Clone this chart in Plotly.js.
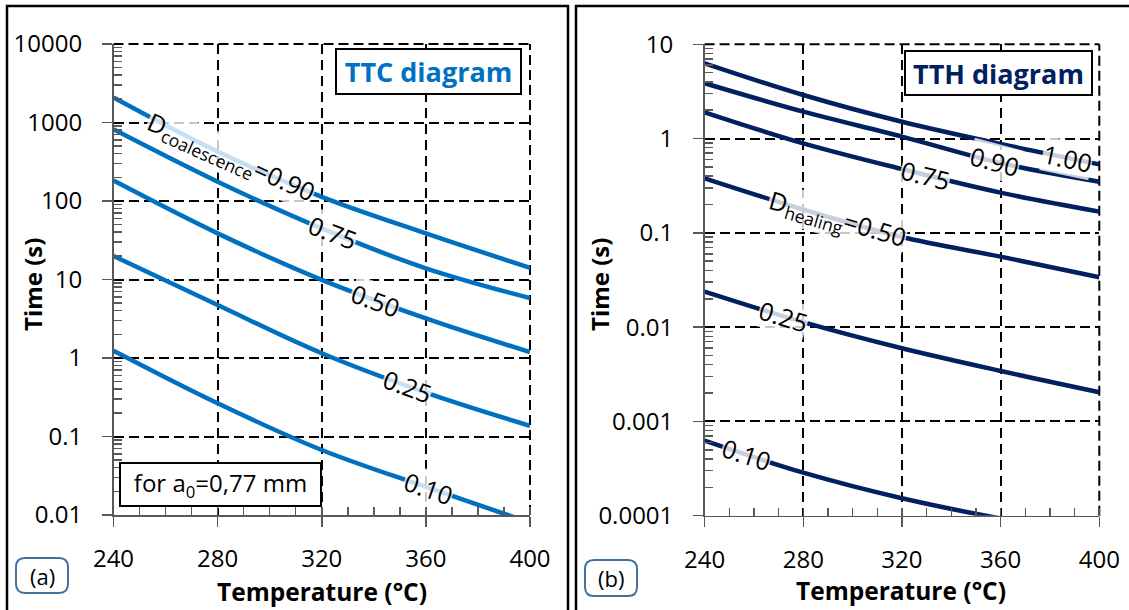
<!DOCTYPE html>
<html>
<head>
<meta charset="utf-8">
<script src="https://cdn.plot.ly/plotly-3.0.1.min.js"></script>
<style>
html,body{margin:0;padding:0;background:#fff;}
#chart{width:1129px;height:610px;}
</style>
</head>
<body>
<div id="chart"></div>
<script>
// ---------- DATA ----------
const temperature = [240, 280, 320, 360, 400];
const xTicks = [240, 280, 320, 360, 400];

// TTC diagram (D_coalescence)
const ttcLevels = ['0.90', '0.75', '0.50', '0.25', '0.10'];
const ttc090 = [2090, 428, 113, 38.7, 14.1];
const ttc075 = [818, 176, 44.7, 13.9, 5.8];
const ttc050 = [182, 38.7, 9.9, 3.2, 1.19];
const ttc025 = [19.9, 4.73, 1.15, 0.363, 0.137];
const ttc010 = [1.24, 0.265, 0.0673, 0.0228, 0.008];

// TTH diagram (D_healing)
const tthLevels = ['1.00', '0.90', '0.75', '0.50', '0.25', '0.10'];
const tth100 = [6.29, 2.9, 1.51, 0.877, 0.533];
const tth090 = [3.86, 1.93, 1.05, 0.55, 0.349];
const tth075 = [1.9, 0.89, 0.475, 0.267, 0.168];
const tth050 = [0.379, 0.177, 0.0904, 0.0559, 0.0338];
const tth025 = [0.0238, 0.0113, 0.00597, 0.00343, 0.00204];
const tth010 = [0.000625, 0.000286, 0.000153, 0.0000935, 0.000063];

const ttcTickVals = [0.01, 0.1, 1, 10, 100, 1000, 10000];
const ttcTickText = ['0.01', '0.1', '1', '10', '100', '1000', '10000'];
const tthTickVals = [0.0001, 0.001, 0.01, 0.1, 1, 10];
const tthTickText = ['0.0001', '0.001', '0.01', '0.1', '1', '10'];

// label positions (temperature at label centre) and angles
const ttcLabelT = [285, 324, 340.5, 353, 361];
const ttcLabelAngle = [24, 21, 20, 20, 19];
const tthLabelT = [387, 357.4, 329.6, 294, 271.8, 256.8];
const tthLabelAngle = [12, 15, 14, 16, 17, 18];

// ---------- STYLE ----------
const W = 1129, H = 610;
const ttcColor = '#0070C0';
const tthColor = '#002060';
const axColor = '#595959';
const FONT = 'Open Sans, Liberation Sans, sans-serif';

function px2x(px) { return px / W; }
function py2y(py) { return 1 - py / H; }

function minorLogVals(lo, hi) {
  const v = [];
  for (let e = lo; e < hi; e++) {
    for (let k = 2; k <= 9; k++) v.push(k * Math.pow(10, e));
  }
  return v;
}

function logAt(ys, t) {
  for (let i = 0; i < temperature.length - 1; i++) {
    if (t >= temperature[i] && t <= temperature[i + 1]) {
      const f = (t - temperature[i]) / (temperature[i + 1] - temperature[i]);
      return Math.log10(ys[i]) * (1 - f) + Math.log10(ys[i + 1]) * f;
    }
  }
  return Math.log10(ys[ys.length - 1]);
}

const ttcSeries = [ttc090, ttc075, ttc050, ttc025, ttc010];
const tthSeries = [tth100, tth090, tth075, tth050, tth025, tth010];

const traces = [];
ttcSeries.forEach((ys, i) => {
  traces.push({
    x: temperature, y: ys, type: 'scatter', mode: 'lines',
    xaxis: 'x', yaxis: 'y',
    line: { color: ttcColor, width: 4.5, shape: 'spline', smoothing: 1 },
    hoverinfo: 'skip', showlegend: false, name: 'D=' + ttcLevels[i]
  });
});
tthSeries.forEach((ys, i) => {
  traces.push({
    x: temperature, y: ys, type: 'scatter', mode: 'lines',
    xaxis: 'x2', yaxis: 'y2',
    line: { color: tthColor, width: 4.5, shape: 'spline', smoothing: 1 },
    hoverinfo: 'skip', showlegend: false, name: 'D=' + tthLevels[i]
  });
});

function xAxis(domain, anchor) {
  return {
    domain: domain, anchor: anchor, range: [240, 400],
    tickmode: 'array', tickvals: xTicks, ticktext: xTicks.map(String),
    ticks: 'outside', ticklen: 10, tickwidth: 1.5, tickcolor: axColor,
    ticklabelstandoff: 12,
    minor: { ticks: 'inside', ticklen: 8, tickwidth: 1.5, tickcolor: axColor, dtick: 10, tick0: 240, showgrid: false },
    showline: true, linecolor: axColor, linewidth: 1.5,
    showgrid: true, gridcolor: '#000', gridwidth: 2, griddash: '10px,6px',
    zeroline: false, fixedrange: true,
    tickfont: { family: FONT, size: 24, color: '#000' }
  };
}
function yAxis(domain, anchor, range, tv, tt, lo, hi) {
  return {
    domain: domain, anchor: anchor, type: 'log', range: range,
    tickmode: 'array', tickvals: tv, ticktext: tt,
    ticks: 'outside', ticklen: 10, tickwidth: 1.5, tickcolor: axColor,
    ticklabelstandoff: 15,
    minor: { ticks: 'inside', ticklen: 8, tickwidth: 1.5, tickcolor: axColor, tickmode: 'array', tickvals: minorLogVals(lo, hi), showgrid: false },
    showline: true, linecolor: axColor, linewidth: 1.5,
    showgrid: true, gridcolor: '#000', gridwidth: 2, griddash: '10px,5px',
    zeroline: false, fixedrange: true,
    tickfont: { family: FONT, size: 24, color: '#000' }
  };
}

const annotations = [];
ttcSeries.forEach((ys, i) => {
  const txt = i === 0 ? 'D<sub>coalescence</sub>=' + ttcLevels[i] : ttcLevels[i];
  annotations.push({
    xref: 'x', yref: 'y', x: ttcLabelT[i], y: logAt(ys, ttcLabelT[i]),
    text: txt, showarrow: false, textangle: ttcLabelAngle[i],
    xanchor: 'center', yanchor: 'middle',
    bgcolor: 'rgba(255,255,255,0.78)', borderpad: 0,
    font: { family: FONT, size: 25, color: '#000' }
  });
});
tthSeries.forEach((ys, i) => {
  const txt = i === 3 ? 'D<sub>healing</sub>=' + tthLevels[i] : tthLevels[i];
  annotations.push({
    xref: 'x2', yref: 'y2', x: tthLabelT[i], y: logAt(ys, tthLabelT[i]),
    text: txt, showarrow: false, textangle: tthLabelAngle[i],
    xanchor: 'center', yanchor: 'middle',
    bgcolor: 'rgba(255,255,255,0.78)', borderpad: 0,
    font: { family: FONT, size: 25, color: '#000' }
  });
});
annotations.push({
  xref: 'paper', yref: 'paper', x: px2x(428.9), y: py2y(72), xanchor: 'center', yanchor: 'middle',
  text: '<b>TTC diagram</b>', showarrow: false, width: 183, height: 43,
  bgcolor: '#fff', bordercolor: '#000', borderwidth: 2, borderpad: 0,
  font: { family: FONT, size: 27, color: ttcColor }
});
annotations.push({
  xref: 'paper', yref: 'paper', x: px2x(998), y: py2y(73), xanchor: 'center', yanchor: 'middle',
  text: '<b>TTH diagram</b>', showarrow: false, width: 185, height: 42,
  bgcolor: '#fff', bordercolor: '#000', borderwidth: 2, borderpad: 0,
  font: { family: FONT, size: 27, color: tthColor }
});
annotations.push({
  xref: 'paper', yref: 'paper', x: px2x(220.5), y: py2y(484), xanchor: 'center', yanchor: 'middle',
  text: 'for a<sub>0</sub>=0,77 mm', showarrow: false, width: 199, height: 41,
  bgcolor: '#fff', bordercolor: '#000', borderwidth: 2, borderpad: 0,
  font: { family: FONT, size: 24, color: '#000' }
});
[[32, 'Time (s)'], [599, 'Time (s)']].forEach(([px, t]) => {
  annotations.push({
    xref: 'paper', yref: 'paper', x: px2x(px), y: py2y(285), xanchor: 'center', yanchor: 'middle',
    text: '<b>' + t + '</b>', showarrow: false, textangle: -90,
    font: { family: FONT, size: 24, color: '#000' }
  });
});
[[321.7, 591], [900.5, 590]].forEach(([px, py]) => {
  annotations.push({
    xref: 'paper', yref: 'paper', x: px2x(px), y: py2y(py), xanchor: 'center', yanchor: 'middle',
    text: '<b>Temperature (°C)</b>', showarrow: false,
    font: { family: FONT, size: 24.5, color: '#000' }
  });
});
[[42, 575.5, '(a)'], [611, 578, '(b)']].forEach(([px, py, t]) => {
  annotations.push({
    xref: 'paper', yref: 'paper', x: px2x(px), y: py2y(py), xanchor: 'center', yanchor: 'middle',
    text: t, showarrow: false,
    font: { family: FONT, size: 22, color: '#000' }
  });
});

function roundRect(x0, y0, x1, y1, r) {
  const X = v => px2x(v).toFixed(5), Y = v => py2y(v).toFixed(5);
  return 'M' + X(x0 + r) + ',' + Y(y0) +
    ' L' + X(x1 - r) + ',' + Y(y0) + ' Q' + X(x1) + ',' + Y(y0) + ' ' + X(x1) + ',' + Y(y0 + r) +
    ' L' + X(x1) + ',' + Y(y1 - r) + ' Q' + X(x1) + ',' + Y(y1) + ' ' + X(x1 - r) + ',' + Y(y1) +
    ' L' + X(x0 + r) + ',' + Y(y1) + ' Q' + X(x0) + ',' + Y(y1) + ' ' + X(x0) + ',' + Y(y1 - r) +
    ' L' + X(x0) + ',' + Y(y0 + r) + ' Q' + X(x0) + ',' + Y(y0) + ' ' + X(x0 + r) + ',' + Y(y0) + ' Z';
}

const dashBorder = { color: '#000', width: 2, dash: '10px,5px' };
const shapes = [
  { type: 'rect', xref: 'paper', yref: 'paper', x0: px2x(7), x1: px2x(568), y0: -0.1, y1: py2y(6),
    line: { color: '#000', width: 2.5 }, layer: 'above' },
  { type: 'rect', xref: 'paper', yref: 'paper', x0: px2x(576), x1: 1.1, y0: -0.1, y1: py2y(6),
    line: { color: '#000', width: 2.5 }, layer: 'above' },
  { type: 'path', xref: 'paper', yref: 'paper', path: roundRect(16, 558, 68, 593, 9),
    line: { color: '#41719C', width: 2 }, fillcolor: 'rgba(0,0,0,0)' },
  { type: 'path', xref: 'paper', yref: 'paper', path: roundRect(585, 560, 637, 596, 9),
    line: { color: '#41719C', width: 2 }, fillcolor: 'rgba(0,0,0,0)' },
  { type: 'line', xref: 'x domain', yref: 'y domain', x0: 0, x1: 1, y0: 1, y1: 1, line: dashBorder, layer: 'below' },
  { type: 'line', xref: 'x domain', yref: 'y domain', x0: 1, x1: 1, y0: 0, y1: 1, line: dashBorder, layer: 'below' },
  { type: 'line', xref: 'x2 domain', yref: 'y2 domain', x0: 0, x1: 1, y0: 1, y1: 1, line: dashBorder, layer: 'below' },
  { type: 'line', xref: 'x2 domain', yref: 'y2 domain', x0: 1, x1: 1, y0: 0, y1: 1, line: dashBorder, layer: 'below' }
];

const layout = {
  width: W, height: H,
  margin: { l: 0, r: 0, t: 0, b: 0 },
  paper_bgcolor: '#fff', plot_bgcolor: '#fff',
  showlegend: false,
  xaxis: xAxis([px2x(113.5), px2x(530)], 'y'),
  yaxis: yAxis([py2y(515), py2y(44)], 'x', [-2, 4], ttcTickVals, ttcTickText, -2, 4),
  xaxis2: xAxis([px2x(704.6), px2x(1099.3)], 'y2'),
  yaxis2: yAxis([py2y(515.7), py2y(44.3)], 'x2', [-4, 1], tthTickVals, tthTickText, -4, 1),
  annotations: annotations,
  shapes: shapes
};

Plotly.newPlot('chart', traces, layout, { displayModeBar: false, staticPlot: true });
</script>
</body>
</html>
